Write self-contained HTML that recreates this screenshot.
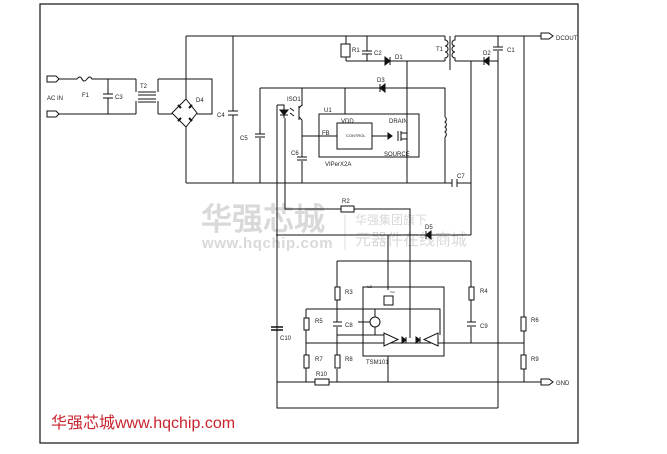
<!DOCTYPE html>
<html><head><meta charset="utf-8"><style>
html,body{margin:0;padding:0;background:#fff;width:667px;height:454px;overflow:hidden}
svg{display:block}
text{font-family:"Liberation Sans",sans-serif}
</style></head><body>
<svg width="667" height="454" viewBox="0 0 667 454" xmlns="http://www.w3.org/2000/svg">
<!-- watermark -->
<g fill="#d9d9d9">
<text x="201" y="230" font-size="31" font-weight="bold" font-family="Liberation Sans, Noto Sans CJK SC, sans-serif">华强芯城</text>
<text x="202" y="248" font-size="15" font-weight="bold" letter-spacing="0.6">www.hqchip.com</text>
<text x="355" y="224" font-size="12" font-family="Liberation Sans, Noto Sans CJK SC, sans-serif">华强集团旗下</text>
<text x="355" y="245" font-size="16" font-family="Liberation Sans, Noto Sans CJK SC, sans-serif">元器件在线商城</text>
</g>
<line x1="345" y1="215" x2="345" y2="250" stroke="#ddd"/>
<g fill="none" stroke="#111" stroke-width="1">
<rect x="40" y="4" width="538" height="439" stroke-width="1.2"/>
<path d="M186 36H445M455 36H541"/>
<path d="M541 33h8l4 3l-4 3h-8z"/>
<path d="M186 36V99M186 127V183"/>
<path d="M233 36V111M233 115V183"/>
<path d="M228 111h10M228 115h10"/>
<path d="M346 36V44M346 57V61M341 44h9v13h-9z"/>
<path d="M367 36V51M367 54V61M362 51h10M362 54h10"/>
<path d="M346 61H445"/>
<path d="M385 57v8l5-4z" fill="#111"/><path d="M390 57v8"/>
<path d="M407 61V183"/>
<path d="M445 36v4a3 3 0 0 1 0 6a3 3 0 0 1 0 6a3 3 0 0 1 0 6v3"/>
<path d="M455 36v4a3 3 0 0 0 0 6a3 3 0 0 0 0 6a3 3 0 0 0 0 6v3"/>
<path d="M450 36V70"/>
<path d="M455 61H498"/>
<path d="M489 57v8l-5-4z" fill="#111"/><path d="M484 57v8"/>
<path d="M498 36V47M498 51V408M493 47h10M493 50h10"/>
<path d="M471 61V235"/>
<path d="M524 36V317M524 331V355M524 369V382"/>
<path d="M47 76h9l3 3l-3 3h-9zM47 111h9l3 3l-3 3h-9z"/>
<path d="M59 79H77q3-4 5 0t5 0t5 0H136M59 114H136"/>
<path d="M108 79V94M108 98V114M103 94h10M103 98h10"/>
<path d="M136 79v13M136 114v-13M158 79v13M158 114v-13"/>
<path d="M138 92h18M138 95h18M138 99h18M138 102h18"/>
<path d="M158 79H212V114H197M158 114H172"/>
<path d="M186 99L197 113L186 127L172 113Z"/>
<path d="M178 105l3 3M192 105l-3 3M178 121l3-3M192 121l-3-3" stroke-width="2"/>
<path d="M260 88H445V117M445 137V183"/>
<path d="M445 117a3 3 0 0 1 0 5a3 3 0 0 1 0 5a3 3 0 0 1 0 5a3 3 0 0 1 0 5"/>
<path d="M385 84v8l-5-4z" fill="#111"/><path d="M380 84v8"/>
<path d="M260 88V134M260 138V183M255 134h10M255 137h10"/>
<path d="M302 88V106M302 120V157M302 161V183M297 157h10M297 160h10"/>
<path d="M299 108l3-3M299 117l3 3M299 106v14" />
<path d="M345 88V114"/>
<path d="M302 136H337"/>
<rect x="319" y="114" width="100" height="43"/>
<rect x="337" y="123" width="35" height="26"/>
<path d="M372 136H390"/><path d="M388 133v6l4-3z" fill="#111"/>
<path d="M398 131v10M401 131v10M401 133h6M401 139h6"/>
<path d="M186 183H452M457 183H471M452 179v8M457 179v8"/>
<path d="M277 105H284V118M277 105V408"/>
<path d="M280 110h8l-4 5z" fill="#111"/><path d="M280 115h8"/>
<path d="M290 108l4 3M290 113l4 3"/>
<path d="M285 118V209H341M354 209H410V338"/>
<rect x="341" y="206" width="13" height="6"/>
<path d="M276 235H426M431 235H471"/>
<path d="M431 231v8l-5-4z" fill="#111"/><path d="M426 231v8"/>
<path d="M388 235V290"/>
<path d="M337 261H471"/>
<path d="M337 261V287M337 300V322M337 327V355M337 369V382"/>
<rect x="335" y="287" width="5" height="13"/>
<path d="M333 322h9M333 326h9"/>
<rect x="335" y="355" width="5" height="13"/>
<path d="M471 261V287M471 300V322M471 327V343"/>
<rect x="469" y="287" width="5" height="13"/>
<path d="M467 322h9M467 326h9"/>
<rect x="363" y="287" width="81" height="69"/>
<rect x="384" y="296" width="9" height="9"/>
<path d="M306 309H440V335"/>
<path d="M306 309V318M306 330V355M306 368V382"/>
<rect x="304" y="318" width="5" height="12"/>
<rect x="304" y="355" width="5" height="13"/>
<circle cx="375" cy="322" r="5"/>
<path d="M375 309V317M375 327V335M358 322H370"/>
<path d="M337 335H384"/>
<path d="M306 343H524"/>
<path d="M384 333v13l14-6.5z" fill="#fff"/>
<path d="M438 333v13l-14-6.5z" fill="#fff"/>
<path d="M402 337v6l4-3z" fill="#111"/><path d="M406 337v6"/>
<path d="M416 337v6l4-3z" fill="#111"/><path d="M420 337v6"/>
<path d="M388 356V382"/>
<rect x="521" y="317" width="5" height="14"/>
<rect x="521" y="355" width="5" height="14"/>
<path d="M277 382H315M329 382H541"/>
<rect x="315" y="379" width="14" height="6"/>
<path d="M541 379h8l4 3l-4 3h-8z"/>
<path d="M277 382V408H498"/>
<path d="M271 327h12M271 330h12" stroke-width="1.5"/>
</g>
<g fill="#222" font-size="6">
<text x="556" y="40">DCOUT</text><text x="556" y="385">GND</text>
<text x="47" y="100">AC IN</text><text x="82" y="97">F1</text><text x="115" y="99">C3</text>
<text x="140" y="88">T2</text><text x="196" y="102">D4</text><text x="217" y="117">C4</text>
<text x="352" y="52">R1</text><text x="374" y="55">C2</text><text x="395" y="59">D1</text>
<text x="436" y="51">T1</text><text x="483" y="55">D2</text><text x="507" y="52">C1</text>
<text x="377" y="82">D3</text><text x="287" y="101">ISO1</text><text x="240" y="140">C5</text>
<text x="291" y="155">C6</text><text x="324" y="112">U1</text><text x="341" y="123">VDD</text>
<text x="389" y="123">DRAIN</text><text x="322" y="135">FB</text><text x="384" y="156">SOURCE</text>
<text x="325" y="166">VIPerX2A</text><text x="457" y="178">C7</text>
<text x="346" y="137" font-size="4">CONTROL</text>
<text x="342" y="203">R2</text><text x="425" y="229">D5</text>
<text x="345" y="294">R3</text><text x="480" y="293">R4</text><text x="315" y="323">R5</text>
<text x="345" y="327">C8</text><text x="480" y="328">C9</text><text x="531" y="322">R6</text>
<text x="280" y="340">C10</text><text x="315" y="361">R7</text><text x="345" y="361">R8</text>
<text x="531" y="361">R9</text><text x="316" y="376">R10</text><text x="366" y="364">TSM101</text>
<text x="367" y="288" font-size="4">U2</text><text x="390" y="293" font-size="3">Vcc</text>
</g>
<text x="51" y="428" font-size="16" fill="#c8232c" font-family="Liberation Sans, Noto Sans CJK SC, sans-serif">华强芯城www.hqchip.com</text>
</svg>
</body></html>
